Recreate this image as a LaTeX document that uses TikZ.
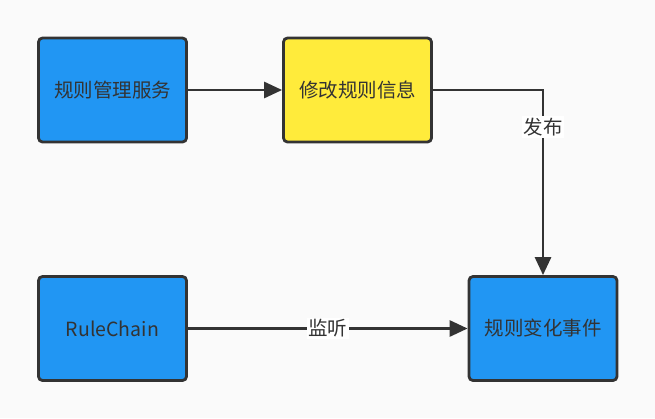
\documentclass[tikz,border=0pt]{standalone}
\usepackage{fontspec}
\setmainfont{Noto Sans CJK SC}
\usetikzlibrary{arrows.meta}
\definecolor{boxblue}{HTML}{2196F3}
\definecolor{boxyellow}{HTML}{FFEB3B}
\definecolor{linegray}{HTML}{333333}
\definecolor{bggray}{HTML}{FAFAFA}
\tikzset{
  block/.style={rectangle,rounded corners=4pt,draw=linegray,line width=2.8pt,
    minimum width=148pt,minimum height=104pt,inner sep=0pt,text=linegray,
    font=\fontsize{19.5}{23}\selectfont},
  flow/.style={-{Triangle[length=18pt,width=16pt]},draw=linegray,line width=2.8pt},
  tag/.style={fill=white,text=linegray,inner sep=1.5pt,font=\fontsize{19.5}{23}\selectfont}
}
\begin{document}
\begin{tikzpicture}[x=1pt,y=-1pt]
% page and background
\fill[bggray] (0,0) rectangle (655,418);
\useasboundingbox (0,0) rectangle (655,418);

% Place rectangles for the parts
\node[block,fill=boxblue]   (manager)   at (112.5,90)  {规则管理服务};
\node[block,fill=boxyellow] (modify)    at (357.5,90)  {修改规则信息};
\node[block,fill=boxblue]   (rulechain) at (112.5,328.5) {RuleChain};
\node[block,fill=boxblue]   (event)     at (543,328.5) {规则变化事件};

% Flows
\draw[flow] (manager) -- (modify);
\draw[flow] (modify.east) -| node[tag,pos=0.6] {发布} (event.north);
\draw[flow] (rulechain) -- node[tag,midway] {监听} (event);
\end{tikzpicture}
\end{document}
